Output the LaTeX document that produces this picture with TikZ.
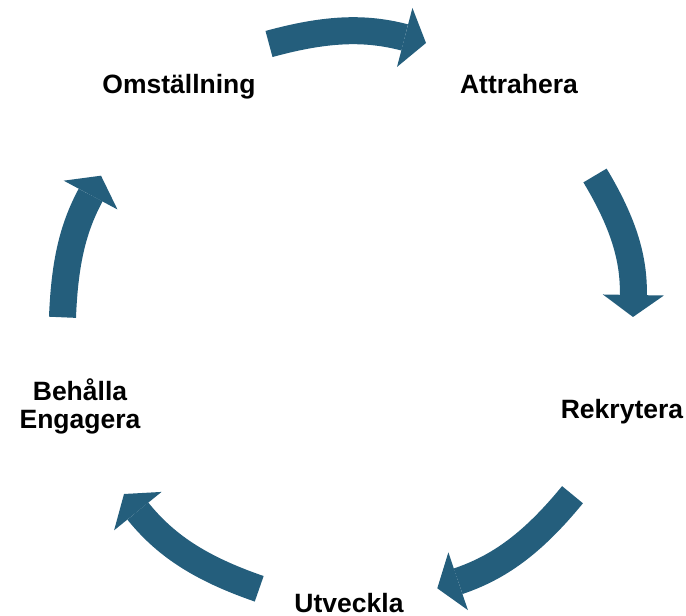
\documentclass[tikz,border=0pt]{standalone}
\usepackage{fontspec}
\setmainfont{Liberation Sans}
\usetikzlibrary{arrows.meta}
\definecolor{cycblue}{RGB}{36,94,124}

\begin{document}
\begin{tikzpicture}[
  x=1pt, y=1pt,
  font=\fontsize{26.5}{28}\selectfont\bfseries,
  lbl/.style={inner sep=0pt, anchor=base, align=center},
  cyc/.style={draw=cycblue, line width=27pt,
              -{Triangle[width=61pt, length=22pt, line width=0pt]}},
]
\useasboundingbox (0,0) rectangle (686,616);
% Stages
\node[lbl] (omst) at (179,522.7) {Omställning};
\node[lbl] (attr) at (519,522.7) {Attrahera};
\node[lbl] (rekr) at (622,197) {Rekrytera};
\node[lbl] (utv)  at (349,3) {Utveckla};
\node[lbl, anchor=center] (beh) at (80,210) {Behålla\\Engagera};
% Arrow ends
\coordinate (a1s) at (269,572);   \coordinate (a1e) at (426,573);
\coordinate (a2s) at (595,440.5); \coordinate (a2e) at (633,299);
\coordinate (a3s) at (572.5,121.3); \coordinate (a3e) at (437.3,27.7);
\coordinate (a4s) at (259.2,27.2); \coordinate (a4e) at (124,122);
\coordinate (a5s) at (62.5,298.7); \coordinate (a5e) at (101,440.3);
% Cycle arrows
\draw[cyc] (a1s) to[bend left=15] (a1e);
\draw[cyc] (a2s) to[bend left=16] (a2e);
\draw[cyc] (a3s) to[bend left=16] (a3e);
\draw[cyc] (a4s) to[bend left=16] (a4e);
\draw[cyc] (a5s) to[bend left=13] (a5e);
\end{tikzpicture}
\end{document}
